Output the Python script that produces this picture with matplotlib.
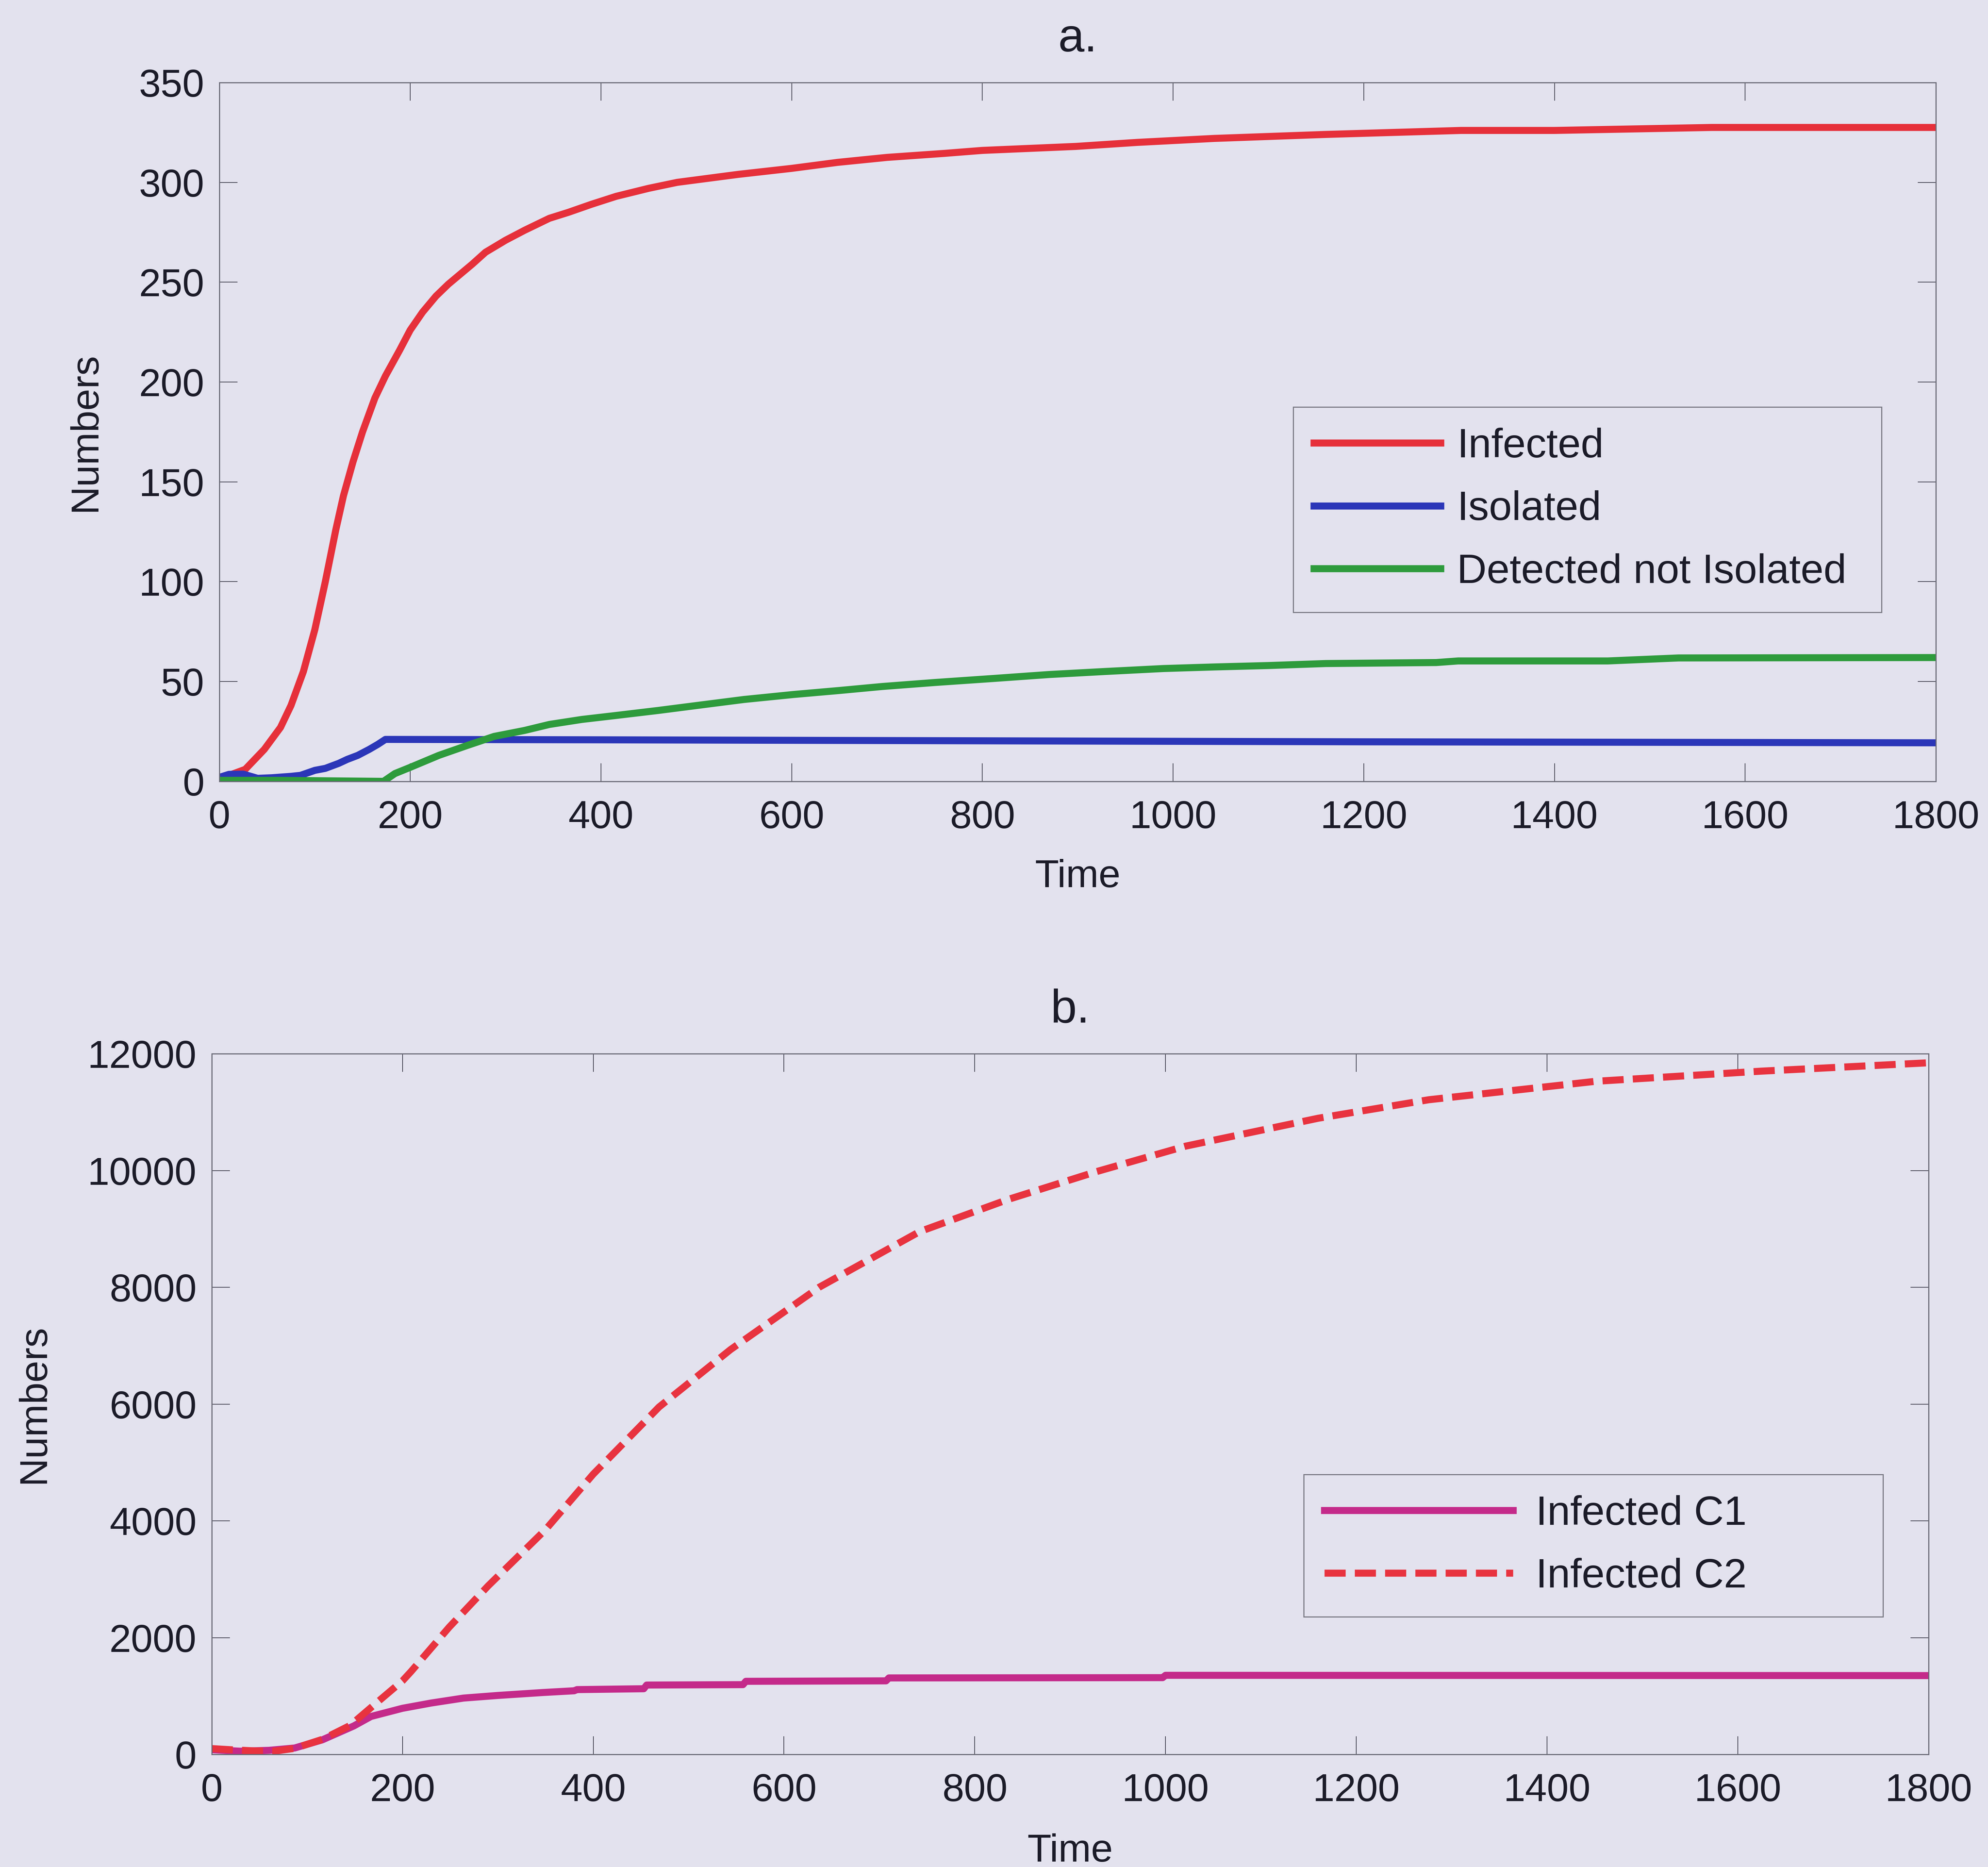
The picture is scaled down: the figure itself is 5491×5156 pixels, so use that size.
import matplotlib
matplotlib.use('Agg')
import matplotlib.pyplot as plt
import numpy as np

# simulation output, panel a
t_inf = [0, 10, 27, 47, 64, 75, 88, 100, 111, 122, 130, 140, 150, 163, 174, 189, 200, 213, 227, 240,
         250, 265, 279, 300, 320, 346, 366, 390, 416, 450, 480, 544, 600, 648, 700, 760, 800, 898,
         962, 1043, 1160, 1302, 1400, 1565, 1800]
infected = [1, 3, 6, 16, 27, 38, 55, 76, 100, 126, 143, 160, 175, 192, 203, 216, 226, 235, 243, 249,
            253, 259, 265, 271, 276, 282, 285, 289, 293, 297, 300, 304, 307, 310, 312.5, 314.5, 316, 318,
            320, 322, 324, 326, 326, 327.5, 327.5]

t_iso = [0, 10, 25, 40, 55, 75, 85, 100, 111, 125, 134, 145, 157, 166, 174, 400, 800, 1200, 1800]
isolated = [2, 3.5, 3.6, 1.5, 1.8, 2.5, 3, 5.5, 6.5, 9, 11, 13, 16, 18.5, 21, 20.8, 20.3, 19.8, 19.3]

t_det = [0, 60, 172, 184, 200, 230, 260, 288, 320, 346, 380, 416, 460, 509, 550, 602, 650, 695, 750,
         811, 870, 928, 990, 1044, 1100, 1160, 1276, 1299, 1456, 1530, 1800]
detected = [0.5, 0.5, 0, 3.9, 7, 13, 18, 22.5, 25.5, 28.5, 31, 33, 35.5, 38.5, 41, 43.5, 45.5, 47.5, 49.5,
            51.5, 53.5, 55, 56.5, 57.3, 58, 59, 59.5, 60.3, 60.3, 61.8, 62]

# panel b, two communities
t_c1 = [0, 30, 60, 87, 116, 149, 167, 200, 230, 264, 300, 347, 380, 383, 453, 456, 557, 560, 707, 710,
        997, 1000, 1800]
infected_c1 = [80, 55, 70, 110, 250, 488, 650, 790, 880, 965, 1010, 1060, 1090, 1110, 1125, 1188, 1195,
               1252, 1260, 1310, 1315, 1355, 1350]

t_c2 = [0, 20, 45, 66, 87, 116, 145, 174, 200, 209, 249, 290, 350, 400, 469, 544, 637, 742, 835, 928,
        1021, 1160, 1276, 1451, 1625, 1800]
infected_c2 = [100, 80, 60, 57, 104, 258, 495, 900, 1260, 1420, 2180, 2890, 3850, 4800, 5950, 6934, 8002,
               8952, 9505, 9983, 10417, 10895, 11212, 11528, 11702, 11845]

bg = '#e3e2ee'
txt = '#1b1b28'
plt.rcParams['font.family'] = ['Liberation Sans', 'DejaVu Sans']
plt.rcParams['font.size'] = 78
plt.rcParams['text.color'] = txt
plt.rcParams['axes.labelcolor'] = txt
plt.rcParams['xtick.color'] = '#3a3a48'
plt.rcParams['ytick.color'] = '#3a3a48'
plt.rcParams['xtick.labelcolor'] = txt
plt.rcParams['ytick.labelcolor'] = txt

fig = plt.figure(figsize=(54.91, 51.56), dpi=100, facecolor=bg)
ax1 = fig.add_axes([0.1104, 0.5815, 0.8634, 0.3743])
ax2 = fig.add_axes([0.1065, 0.0603, 0.8636, 0.3753])


def style_axes(ax):
    ax.set_facecolor(bg)
    for s in ax.spines.values():
        s.set_color('#6a6a76')
        s.set_linewidth(2.2)
    ax.tick_params(direction='in', length=36, width=1.4, top=True, right=True)
    ax.tick_params(axis='x', pad=37)
    ax.tick_params(axis='y', pad=30)
    ax.set_xlim(0, 1800)
    ax.set_xticks(np.arange(0, 1801, 200))


def add_legend(ax, x0, top, w, hl, htp, bp):
    leg = ax.legend(loc='upper left', bbox_to_anchor=(x0, top, w, 0), mode='expand',
                    borderaxespad=0, fontsize=82, handlelength=hl, handletextpad=htp,
                    labelspacing=0.59, borderpad=bp, fancybox=False, facecolor=bg, framealpha=1)
    leg.get_frame().set_edgecolor('#7a7a84')
    leg.get_frame().set_linewidth(2.2)
    return leg


lw = 14
ax1.plot(t_inf, infected, color='#e6303a', lw=lw, label='Infected')
ax1.plot(t_iso, isolated, color='#2b36b8', lw=lw, label='Isolated')
ax1.plot(t_det, detected, color='#2e9b3c', lw=lw, label='Detected not Isolated')
style_axes(ax1)
ax1.set_ylim(0, 350)
ax1.set_yticks(np.arange(0, 351, 50))
ax1.set_title('a.', pad=62)
ax1.set_xlabel('Time', labelpad=45)
ax1.set_ylabel('Numbers', labelpad=70)
add_legend(ax1, 0.6256, 0.5355, 0.3427, 3.07, 0.4, 0.5)

ax2.plot(t_c1, infected_c1, color='#c42a8a', lw=lw, label='Infected C1')
ax2.plot(t_c2, infected_c2, color='#e8333f', lw=lw, ls='--', dashes=(3, 1.3), label='Infected C2')
style_axes(ax2)
ax2.set_ylim(0, 12000)
ax2.set_yticks(np.arange(0, 12001, 2000))
ax2.set_title('b.', pad=62)
ax2.set_xlabel('Time', labelpad=48)
ax2.set_ylabel('Numbers', labelpad=70)
add_legend(ax2, 0.636, 0.3996, 0.3375, 4.58, 0.55, 0.5)

fig.savefig('out.png', dpi=100, facecolor=bg)
